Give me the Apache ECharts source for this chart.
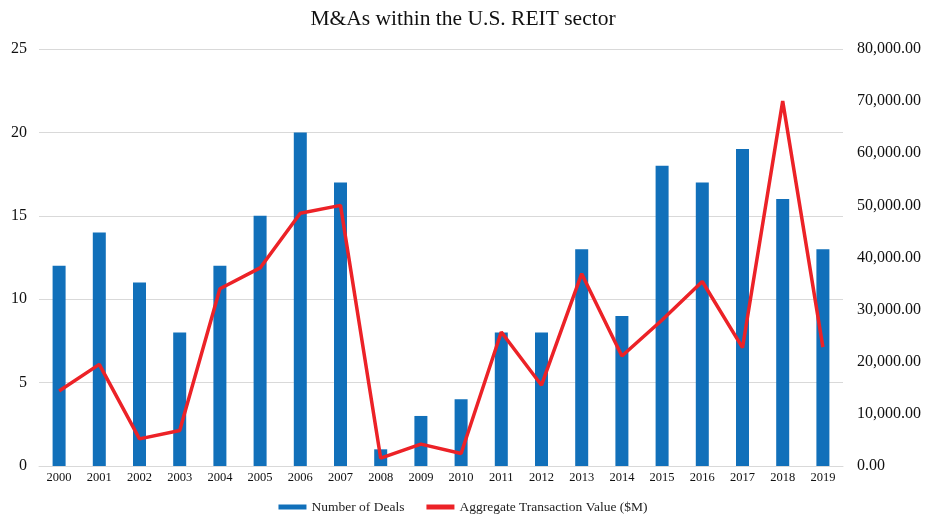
<!DOCTYPE html>
<html><head><meta charset="utf-8">
<script src="https://cdn.jsdelivr.net/npm/echarts@6/dist/echarts.min.js"></script>
<style>html,body{margin:0;padding:0;background:#fff}#c{width:926px;height:515px}</style>
</head><body><div id="c"></div>
<script>
const years = ['2000','2001','2002','2003','2004','2005','2006','2007','2008','2009','2010','2011','2012','2013','2014','2015','2016','2017','2018','2019'];
const deals = [12,14,11,8,12,15,20,17,1,3,4,8,8,13,9,18,17,19,16,13];
const aggValue = [14400,19500,5200,6800,34000,38000,48500,50000,1500,4200,2400,25700,15500,36900,21100,28000,35400,22700,70000,22800];
const leftTicks = {min:0,max:25,interval:5};
const rightTicks = {min:0,max:80000,interval:10000};

const font = '"Liberation Serif","DejaVu Serif",serif';
const chart = echarts.init(document.getElementById('c'));
chart.setOption({
  animation:false,
  textStyle:{fontFamily:font},
  title:{text:'M&As within the U.S. REIT sector',left:'center',top:3,
    textStyle:{fontFamily:font,fontSize:21.5,fontWeight:'normal',color:'#111'}},
  legend:{top:497,left:'center',padding:[3,5],itemGap:22,itemWidth:28,itemHeight:5,
    textStyle:{fontFamily:font,fontSize:13.5,color:'#222'},
    data:[{name:'Number of Deals',icon:'rect'},{name:'Aggregate Transaction Value ($M)',icon:'rect'}]},
  grid:{left:39,right:83,top:49,bottom:49,containLabel:false},
  xAxis:{type:'category',data:years,
    axisLine:{lineStyle:{color:'#d9d9d9'}},axisTick:{show:false},
    axisLabel:{fontFamily:font,fontSize:12.5,color:'#111',margin:5,interval:0}},
  yAxis:[
    {type:'value',min:leftTicks.min,max:leftTicks.max,interval:leftTicks.interval,
     axisLine:{show:false},axisTick:{show:false},
     splitLine:{lineStyle:{color:'#d9d9d9'}},
     axisLabel:{fontFamily:font,fontSize:16,color:'#111',margin:12}},
    {type:'value',min:rightTicks.min,max:rightTicks.max,interval:rightTicks.interval,
     axisLine:{show:false},axisTick:{show:false},splitLine:{show:false},
     axisLabel:{fontFamily:font,fontSize:16,color:'#111',margin:14,
       formatter:v=>v.toLocaleString('en-US',{minimumFractionDigits:2,maximumFractionDigits:2})}}
  ],
  series:[
    {name:'Number of Deals',type:'bar',data:deals,barWidth:13,yAxisIndex:0,
     itemStyle:{color:'#1170BA'}},
    {name:'Aggregate Transaction Value ($M)',type:'line',data:aggValue,yAxisIndex:1,
     symbol:'none',lineStyle:{color:'#EC2227',width:3.5},itemStyle:{color:'#EC2227'}}
  ]
});
</script></body></html>
